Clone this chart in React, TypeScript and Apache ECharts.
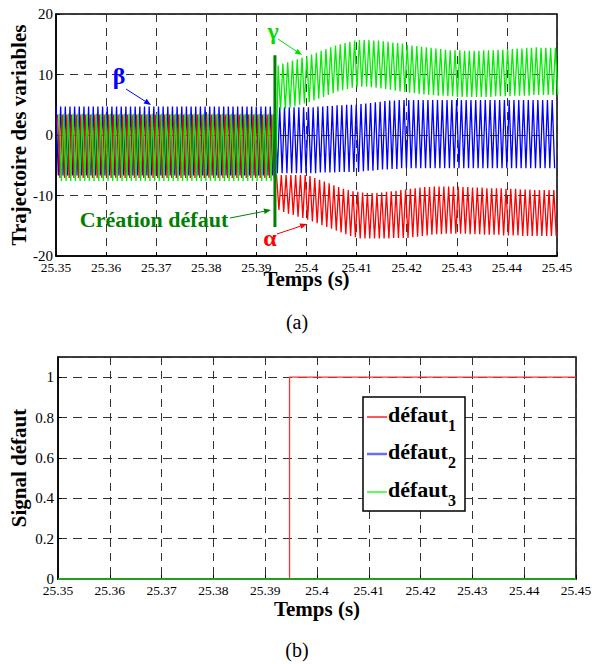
import React, { useEffect, useRef } from "react";
import * as echarts from "echarts";

// ---------- Data ----------
const X_MIN = 25.35;
const X_MAX = 25.45;
const X_STEP = 0.01;
const FAULT_TIME = 25.3937; // instant de création du défaut
const FAULT_LOW = -15.2;
const FAULT_HIGH = 13.2;

// Pre-fault: per-cycle maxima / minima (47 cycles)
const betaPrePeaks = [
  4.7, 4.7, 4.7, 4.7, 4.7, 4.7, 4.7, 4.7, 4.7, 4.7,
  4.7, 4.7, 4.7, 4.7, 4.7, 4.7, 4.7, 4.7, 4.7, 4.7,
  4.7, 4.7, 4.7, 4.7, 4.7, 4.7, 4.7, 4.7, 4.7, 4.7,
  4.7, 4.7, 4.7, 4.7, 4.7, 4.7, 4.7, 4.7, 4.7, 4.7,
  4.7, 4.7, 4.7, 4.7, 4.7, 4.7, 4.7,
];
const betaPreTroughs = [
  -6.7, -6.7, -6.7, -6.7, -6.7, -6.7, -6.7, -6.7, -6.7, -6.7,
  -6.7, -6.7, -6.7, -6.7, -6.7, -6.7, -6.7, -6.7, -6.7, -6.7,
  -6.7, -6.7, -6.7, -6.7, -6.7, -6.7, -6.7, -6.7, -6.7, -6.7,
  -6.7, -6.7, -6.7, -6.7, -6.7, -6.7, -6.7, -6.7, -6.7, -6.7,
  -6.7, -6.7, -6.7, -6.7, -6.7, -6.7, -6.7,
];
const alphaPrePeaks = [
  3.4, 3.4, 3.4, 3.4, 3.4, 3.4, 3.4, 3.4, 3.4, 3.4,
  3.4, 3.4, 3.4, 3.4, 3.4, 3.4, 3.4, 3.4, 3.4, 3.4,
  3.4, 3.4, 3.4, 3.4, 3.4, 3.4, 3.4, 3.4, 3.4, 3.4,
  3.4, 3.4, 3.4, 3.4, 3.4, 3.4, 3.4, 3.4, 3.4, 3.4,
  3.4, 3.4, 3.4, 3.4, 3.4, 3.4, 3.4,
];
const alphaPreTroughs = [
  -7.1, -7.1, -7.1, -7.1, -7.1, -7.1, -7.1, -7.1, -7.1, -7.1,
  -7.1, -7.1, -7.1, -7.1, -7.1, -7.1, -7.1, -7.1, -7.1, -7.1,
  -7.1, -7.1, -7.1, -7.1, -7.1, -7.1, -7.1, -7.1, -7.1, -7.1,
  -7.1, -7.1, -7.1, -7.1, -7.1, -7.1, -7.1, -7.1, -7.1, -7.1,
  -7.1, -7.1, -7.1, -7.1, -7.1, -7.1, -7.1,
];
const gammaPrePeaks = [
  3.5, 3.5, 3.5, 3.5, 3.5, 3.5, 3.5, 3.5, 3.5, 3.5,
  3.5, 3.5, 3.5, 3.5, 3.5, 3.5, 3.5, 3.5, 3.5, 3.5,
  3.5, 3.5, 3.5, 3.5, 3.5, 3.5, 3.5, 3.5, 3.5, 3.5,
  3.5, 3.5, 3.5, 3.5, 3.5, 3.5, 3.5, 3.5, 3.5, 3.5,
  3.5, 3.5, 3.5, 3.5, 3.5, 3.5, 3.5,
];
const gammaPreTroughs = [
  -7.6, -7.6, -7.6, -7.6, -7.6, -7.6, -7.6, -7.6, -7.6, -7.6,
  -7.6, -7.6, -7.6, -7.6, -7.6, -7.6, -7.6, -7.6, -7.6, -7.6,
  -7.6, -7.6, -7.6, -7.6, -7.6, -7.6, -7.6, -7.6, -7.6, -7.6,
  -7.6, -7.6, -7.6, -7.6, -7.6, -7.6, -7.6, -7.6, -7.6, -7.6,
  -7.6, -7.6, -7.6, -7.6, -7.6, -7.6, -7.6,
];

// Post-fault: per-cycle maxima / minima (59 cycles)
const gammaPostPeaks = [
  11.5, 11.8, 12.0, 12.3, 12.5, 12.8, 13.0,
  13.3, 13.6, 13.9, 14.2, 14.5, 14.8, 15.0, 15.2, 15.4, 15.6, 15.7,
  15.7, 15.7, 15.6, 15.6, 15.5, 15.4, 15.3, 15.2, 15.1, 14.9,
  14.8, 14.7, 14.6, 14.5, 14.4, 14.3, 14.2, 14.1, 14.0, 14.0, 14.0,
  13.9, 13.9, 13.9, 13.9, 14.0, 14.0, 14.0, 14.1, 14.1, 14.2,
  14.2, 14.3, 14.3, 14.4, 14.4, 14.5, 14.4, 14.4, 14.4, 14.4,
];
const gammaPostTroughs = [
  4.1, 4.3, 4.5, 4.7, 5.0, 5.2, 5.4,
  5.7, 6.0, 6.3, 6.6, 6.9, 7.2, 7.4, 7.6, 7.8, 7.9, 8.0,
  8.0, 7.9, 7.8, 7.7, 7.6, 7.5, 7.3, 7.2, 7.1, 7.0,
  6.9, 6.8, 6.7, 6.6, 6.6, 6.5, 6.5, 6.4, 6.4, 6.3, 6.3,
  6.3, 6.3, 6.3, 6.3, 6.3, 6.3, 6.4, 6.4, 6.4, 6.4,
  6.5, 6.5, 6.5, 6.5, 6.6, 6.6, 6.6, 6.6, 6.6, 6.6,
];
const betaPostPeaks = [
  4.6, 4.6, 4.6, 4.6, 4.6, 4.6, 4.6,
  4.6, 4.6, 4.7, 4.7, 4.8, 4.8, 4.9, 4.9, 5.0, 5.0, 5.0,
  5.1, 5.2, 5.3, 5.4, 5.5, 5.6, 5.7, 5.7, 5.8, 5.8,
  5.8, 5.8, 5.8, 5.8, 5.8, 5.8, 5.8, 5.8, 5.8, 5.8, 5.8,
  5.8, 5.8, 5.8, 5.8, 5.8, 5.8, 5.8, 5.8, 5.8, 5.8,
  5.8, 5.8, 5.8, 5.8, 5.8, 5.8, 5.8, 5.8, 5.8, 5.8,
];
const betaPostTroughs = [
  -6.3, -6.3, -6.3, -6.3, -6.3, -6.3, -6.3,
  -6.3, -6.3, -6.2, -6.2, -6.2, -6.2, -6.1, -6.1, -6.1, -6.1, -6.1,
  -6.0, -5.9, -5.9, -5.8, -5.7, -5.7, -5.6, -5.6, -5.5, -5.5,
  -5.5, -5.5, -5.5, -5.5, -5.5, -5.5, -5.5, -5.5, -5.5, -5.5, -5.5,
  -5.5, -5.5, -5.5, -5.5, -5.5, -5.5, -5.5, -5.5, -5.5, -5.5,
  -5.5, -5.5, -5.5, -5.5, -5.5, -5.5, -5.5, -5.5, -5.5, -5.5,
];
const alphaPostPeaks = [
  -6.6, -6.6, -6.6, -6.6, -6.6, -6.6, -6.6,
  -6.8, -7.1, -7.4, -7.7, -8.0, -8.3, -8.6, -8.9, -9.1, -9.3, -9.4,
  -9.5, -9.6, -9.6, -9.6, -9.5, -9.4, -9.3, -9.2, -9.1, -9.0,
  -8.9, -8.8, -8.7, -8.6, -8.6, -8.5, -8.5, -8.5, -8.5, -8.5, -8.5,
  -8.6, -8.6, -8.7, -8.7, -8.7, -8.8, -8.8, -8.8, -8.8, -8.9,
  -8.9, -8.9, -9.0, -9.0, -9.0, -9.1, -9.1, -9.1, -9.1, -9.1,
];
const alphaPostTroughs = [
  -12.4, -12.7, -13.0, -13.2, -13.5, -13.7, -14.0,
  -14.3, -14.6, -14.9, -15.2, -15.5, -15.8, -16.1, -16.4, -16.7, -16.9, -17.1,
  -17.1, -17.1, -17.1, -17.1, -17.1, -17.1, -17.0, -17.0, -17.0, -17.0,
  -16.9, -16.8, -16.7, -16.6, -16.5, -16.4, -16.4, -16.3, -16.3, -16.3, -16.3,
  -16.3, -16.4, -16.4, -16.4, -16.5, -16.5, -16.5, -16.5, -16.6, -16.6,
  -16.6, -16.6, -16.7, -16.7, -16.7, -16.7, -16.7, -16.7, -16.7, -16.7,
];

// Signal défaut (figure b)
const defautTimes = [25.35, 25.3947, 25.45];
const defaut1 = [0, 1, 1];
const defaut2 = [0, 0, 0];
const defaut3 = [0, 0, 0];

// ---------- Helpers ----------
const SERIF = "Liberation Serif";

function buildWave(
  prePeaks: number[],
  preTroughs: number[],
  postPeaks: number[],
  postTroughs: number[],
  phase: number
): [number, number][] {
  const pts: [number, number][] = [];
  const pPre = (FAULT_TIME - X_MIN) / prePeaks.length;
  prePeaks.forEach((v, k) => {
    pts.push([X_MIN + (k + phase) * pPre, v]);
    pts.push([X_MIN + (k + phase + 0.5) * pPre, preTroughs[k]]);
  });
  const pPost = (X_MAX - FAULT_TIME) / postPeaks.length;
  postPeaks.forEach((v, k) => {
    pts.push([FAULT_TIME + (k + phase) * pPost, v]);
    pts.push([FAULT_TIME + (k + phase + 0.5) * pPost, postTroughs[k]]);
  });
  return pts;
}

function arrow(x1: number, y1: number, x2: number, y2: number, color: string) {
  const a = Math.atan2(y2 - y1, x2 - x1);
  const L = 7;
  const W = 2.8;
  const bx = x2 - L * Math.cos(a);
  const by = y2 - L * Math.sin(a);
  const px = -Math.sin(a) * W;
  const py = Math.cos(a) * W;
  return [
    { type: "line", shape: { x1, y1, x2: bx, y2: by }, style: { stroke: color, lineWidth: 1 }, z: 100 },
    {
      type: "polygon",
      shape: { points: [[x2, y2], [bx + px, by + py], [bx - px, by - py]] },
      style: { fill: color },
      z: 100,
    },
  ];
}

function txt(text: string, x: number, y: number, fill: string, size: number, bold = true, align = "center") {
  return {
    type: "text",
    z: 100,
    style: {
      text,
      x,
      y,
      fill,
      font: `${bold ? "bold " : ""}${size}px "${SERIF}"`,
      align,
      verticalAlign: "middle",
      textAlign: align,
      textVerticalAlign: "middle",
    },
  };
}

const xLabel = (v: number) => String(Math.round(v * 100) / 100);

function xAxisCfg(gridIndex: number, nameGap: number) {
  return {
    type: "value",
    gridIndex,
    min: X_MIN,
    max: X_MAX,
    interval: X_STEP,
    name: "Temps (s)",
    nameLocation: "middle",
    nameGap,
    nameMoveOverlap: false,
    nameTextStyle: { fontFamily: SERIF, fontSize: 21, fontWeight: "bold", color: "#000" },
    axisLine: { show: true, onZero: false, lineStyle: { color: "#000", width: 1.5 } },
    axisTick: { show: true, inside: true, length: 4, lineStyle: { color: "#000" } },
    axisLabel: { color: "#000", fontFamily: SERIF, fontSize: 13.5, margin: 4, formatter: xLabel },
    splitLine: { show: true, lineStyle: { type: [8, 6], color: "#333", width: 1 } },
  };
}

export default function App() {
  const ref = useRef<HTMLDivElement>(null);

  useEffect(() => {
    document.body.style.margin = "0";
    if (!ref.current) return;
    const chart = echarts.init(ref.current, undefined, { renderer: "svg" });

    const beta = buildWave(betaPrePeaks, betaPreTroughs, betaPostPeaks, betaPostTroughs, 0);
    const alpha = buildWave(alphaPrePeaks, alphaPreTroughs, alphaPostPeaks, alphaPostTroughs, 1 / 3);
    const gamma = buildWave(gammaPrePeaks, gammaPreTroughs, gammaPostPeaks, gammaPostTroughs, 2 / 3);

    const legendItems = [
      { color: "#ff2020", width: 1.5, sub: "1", y: 417 },
      { color: "#6b6bff", width: 2.5, sub: "2", y: 454 },
      { color: "#5cff5c", width: 2, sub: "3", y: 492 },
    ];

    const graphic: any[] = [
      txt("β", 119, 76, "#0000ff", 24),
      ...arrow(126, 89, 151, 105, "#0000ff"),
      txt("γ", 273, 31, "#00dd00", 24),
      ...arrow(278, 39, 302, 55, "#00dd00"),
      txt("Création défaut", 154, 219, "#008000", 22),
      ...arrow(230, 218, 271, 210, "#008000"),
      txt("α", 270, 238, "#ff0000", 24),
      ...arrow(277, 234, 307, 224, "#ff0000"),
      txt("(a)", 297, 322, "#000", 20, false),
      txt("(b)", 297, 650, "#000", 20, false),
      {
        type: "rect",
        z: 100,
        shape: { x: 363, y: 397, width: 102, height: 114 },
        style: { fill: "#fff", stroke: "#000", lineWidth: 1.5 },
      },
    ];
    legendItems.forEach((it) => {
      graphic.push({
        type: "line",
        z: 101,
        shape: { x1: 367, y1: it.y, x2: 387, y2: it.y },
        style: { stroke: it.color, lineWidth: it.width },
      });
      graphic.push(txt("défaut", 388, it.y - 3, "#000", 22, true, "left"));
      graphic.push(txt(it.sub, 448, it.y + 8, "#000", 16, true, "left"));
    });

    const waveLine = (name: string, data: [number, number][], color: string) => ({
      name,
      type: "line",
      xAxisIndex: 0,
      yAxisIndex: 0,
      data,
      showSymbol: false,
      symbol: "none",
      clip: true,
      lineStyle: { color, width: 1.3 },
      itemStyle: { color },
    });

    const option: any = {
      animation: false,
      backgroundColor: "#fff",
      grid: [
        { left: 56, top: 14, width: 501, height: 242, show: true, borderColor: "#000", borderWidth: 1.5, backgroundColor: "#fff" },
        { left: 57, top: 357, width: 519, height: 222, show: true, borderColor: "#000", borderWidth: 1.5, backgroundColor: "#fff" },
      ],
      xAxis: [xAxisCfg(0, 12), xAxisCfg(1, 19)],
      yAxis: [
        {
          type: "value",
          gridIndex: 0,
          min: -20,
          max: 20,
          interval: 10,
          name: "Trajectoire des variables",
          nameLocation: "middle",
          nameGap: 27,
          nameMoveOverlap: false,
          nameTextStyle: { fontFamily: SERIF, fontSize: 21, fontWeight: "bold", color: "#000" },
          axisLine: { show: true, onZero: false, lineStyle: { color: "#000", width: 1.5 } },
          axisTick: { show: true, inside: true, length: 4, lineStyle: { color: "#000" } },
          axisLabel: { color: "#000", fontFamily: SERIF, fontSize: 15, margin: 3 },
          splitLine: { show: true, lineStyle: { type: [8, 6], color: "#333", width: 1 } },
        },
        {
          type: "value",
          gridIndex: 1,
          min: 0,
          max: 1.1,
          interval: 0.2,
          name: "Signal défaut",
          nameLocation: "middle",
          nameGap: 29,
          nameMoveOverlap: false,
          nameTextStyle: { fontFamily: SERIF, fontSize: 21, fontWeight: "bold", color: "#000" },
          axisLine: { show: true, onZero: false, lineStyle: { color: "#000", width: 1.5 } },
          axisTick: { show: true, inside: true, length: 4, lineStyle: { color: "#000" } },
          axisLabel: {
            color: "#000",
            fontFamily: SERIF,
            fontSize: 15,
            margin: 4,
            showMaxLabel: false,
            formatter: (v: number) => String(Math.round(v * 10) / 10),
          },
          splitLine: { show: true, lineStyle: { type: [9, 6], color: "#333", width: 1 } },
        },
      ],
      series: [
        waveLine("β", beta, "#0000ff"),
        waveLine("α", alpha, "#ff0000"),
        waveLine("γ", gamma, "#00ee00"),
        {
          name: "Création défaut",
          type: "line",
          xAxisIndex: 0,
          yAxisIndex: 0,
          data: [
            [FAULT_TIME, FAULT_LOW],
            [FAULT_TIME, FAULT_HIGH],
          ],
          showSymbol: false,
          symbol: "none",
          lineStyle: { color: "#008000", width: 3 },
          z: 5,
        },
        {
          name: "défaut1",
          type: "line",
          xAxisIndex: 1,
          yAxisIndex: 1,
          step: "end",
          data: defautTimes.map((t, i) => [t, defaut1[i]]),
          showSymbol: false,
          symbol: "none",
          lineStyle: { color: "#ff3030", width: 1.3 },
        },
        {
          name: "défaut2",
          type: "line",
          xAxisIndex: 1,
          yAxisIndex: 1,
          step: "end",
          data: defautTimes.map((t, i) => [t, defaut2[i]]),
          showSymbol: false,
          symbol: "none",
          lineStyle: { color: "#0000ff", width: 1.3 },
        },
        {
          name: "défaut3",
          type: "line",
          xAxisIndex: 1,
          yAxisIndex: 1,
          step: "end",
          data: defautTimes.map((t, i) => [t, defaut3[i]]),
          showSymbol: false,
          symbol: "none",
          lineStyle: { color: "#22a022", width: 2 },
        },
      ],
      graphic,
    };

    chart.setOption(option);
    return () => chart.dispose();
  }, []);

  return <div ref={ref} style={{ width: 595, height: 664 }} />;
}
